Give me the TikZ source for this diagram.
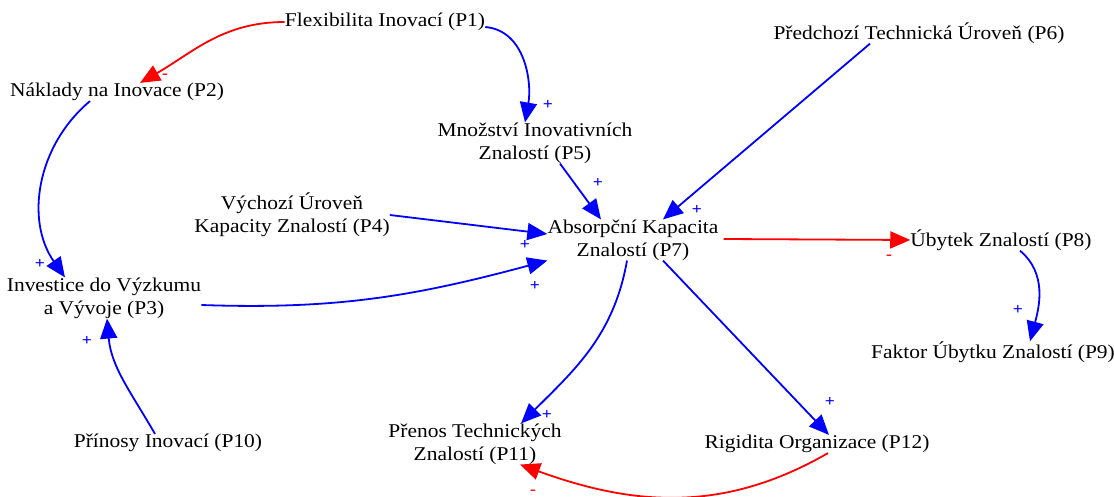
\documentclass[tikz,border=0pt]{standalone}
\usepackage{fontspec}
\setmainfont{Liberation Serif}[FakeStretch=1.1]
\usetikzlibrary{arrows.meta}
\begin{document}
\begin{tikzpicture}[x=1pt,y=-1pt,
  var/.style={inner sep=0pt,align=center,font=\fontsize{19.5}{23}\selectfont},
  poslink/.style={draw=blue,line width=1.8pt,-{Triangle[length=20pt,width=17pt]}},
  neglink/.style={draw=red,line width=1.8pt,-{Triangle[length=20pt,width=17pt]},color=red},
  plussign/.style={text=blue,font=\fontsize{16}{16}\selectfont\bfseries,inner sep=0pt},
  minussign/.style={text=red,font=\fontsize{16}{16}\selectfont\bfseries,inner sep=0pt}]
\useasboundingbox (0,0) rectangle (1114,497);
\node[var] (P1) at (385,22) {Flexibilita Inovací (P1)};
\node[var] (P2) at (117,92) {Náklady na Inovace (P2)};
\node[var] (P3) at (104,298) {Investice do Výzkumu\\a Vývoje (P3)};
\node[var] (P4) at (292,215) {Výchozí Úroveň\\Kapacity Znalostí (P4)};
\node[var] (P5) at (535,143) {Množství Inovativních\\Znalostí (P5)};
\node[var] (P6) at (919,33) {Předchozí Technická Úroveň (P6)};
\node[var] (P7) at (633,240) {Absorpční Kapacita\\Znalostí (P7)};
\node[var] (P8) at (1001,240) {Úbytek Znalostí (P8)};
\node[var] (P9) at (993,352) {Faktor Úbytku Znalostí (P9)};
\node[var] (P10) at (168,443) {Přínosy Inovací (P10)};
\node[var] (P11) at (475,444) {Přenos Technických\\Znalostí (P11)};
\node[var] (P12) at (817,444) {Rigidita Organizace (P12)};

\draw[neglink] (P1.west) to[out=180,in=30] ([xshift=23pt]P2.north);
\draw[poslink] ([yshift=-5pt]P1.east) to[out=-5,in=80] ([xshift=-10pt]P5.north);
\draw[poslink] ([xshift=-27pt]P2.south) to[out=-140,in=125] ([xshift=-39pt]P3.north);
\draw[poslink] (P4.east) -- ([yshift=6pt]P7.west);
\draw[poslink] ([xshift=25pt]P5.south) -- ([xshift=-32pt]P7.north);
\draw[poslink] ([xshift=-49pt]P6.south) -- ([xshift=30pt]P7.north);
\draw[poslink] ([yshift=-7pt]P3.east) to[out=-2,in=195] (P7.south west);
\draw[neglink] ([yshift=1pt,xshift=5pt]P7.east) -- (P8.west);
\draw[poslink] ([xshift=19pt]P8.south) to[out=-40,in=75] ([xshift=37pt]P9.north);
\draw[poslink] ([xshift=-13pt]P10.north) to[out=120,in=-85] ([xshift=3pt]P3.south);
\draw[poslink] ([xshift=-6pt]P7.south) to[out=-100,in=45] ([xshift=46pt]P11.north);
\draw[poslink] ([xshift=30pt]P7.south) -- ([xshift=12pt]P12.north);
\draw[neglink] ([xshift=11pt]P12.south) to[out=-150,in=-20] ([xshift=45pt]P11.south);

\node[minussign] (s1) at (165,76) {-};
\node[plussign] (s2) at (548,105) {+};
\node[plussign] (s3) at (40,264) {+};
\node[plussign] (s4) at (525,245) {+};
\node[plussign] (s5) at (598,183) {+};
\node[plussign] (s6) at (697,210) {+};
\node[plussign] (s7) at (535,286) {+};
\node[minussign] (s8) at (889,257) {-};
\node[plussign] (s9) at (1018,310) {+};
\node[plussign] (s10) at (87,341) {+};
\node[plussign] (s11) at (547,415) {+};
\node[plussign] (s12) at (830,402) {+};
\node[minussign] (s13) at (533,492) {-};
\end{tikzpicture}
\end{document}
